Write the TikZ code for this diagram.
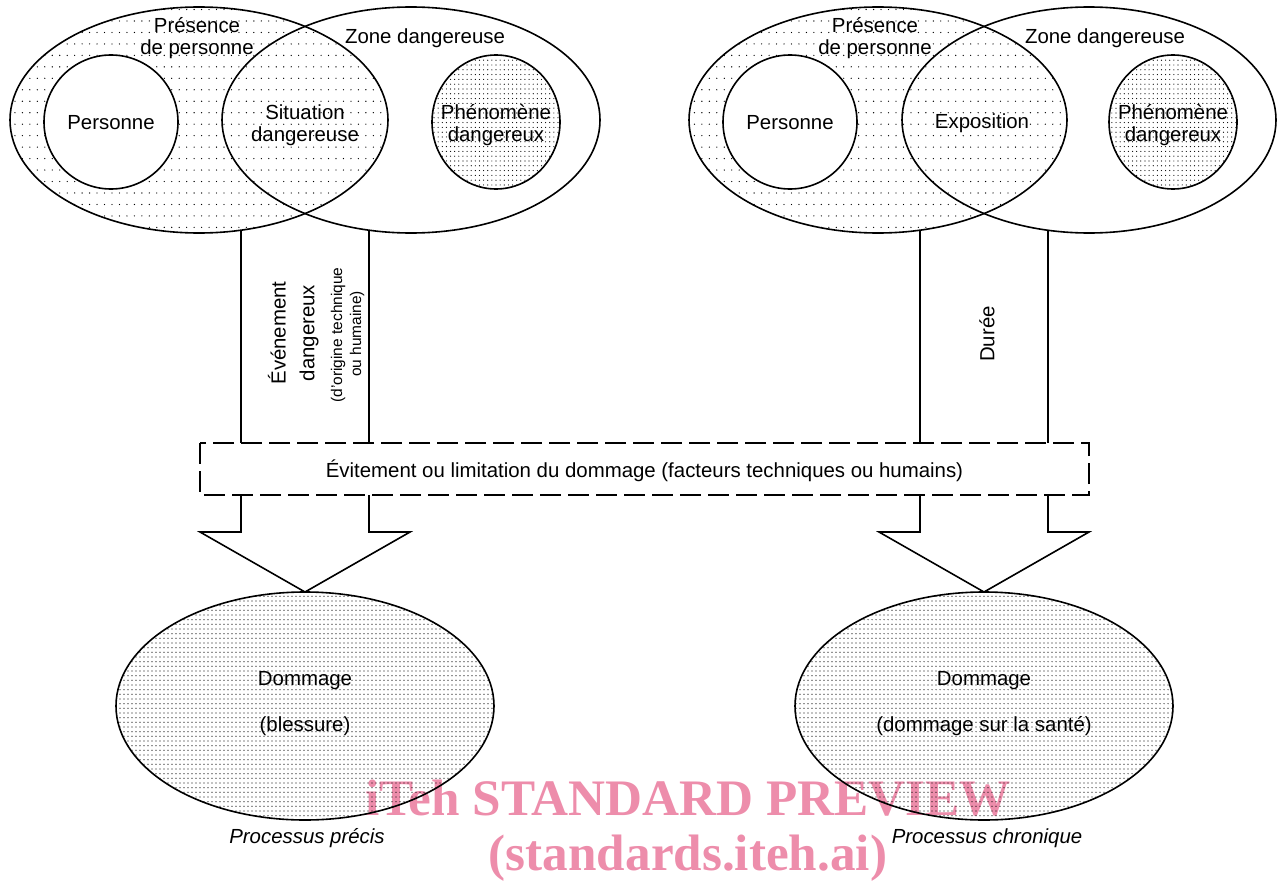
\documentclass[tikz,border=0pt]{standalone}
\usepackage{fontspec}
\setmainfont{Liberation Sans}
\newfontfamily\wmfont{Liberation Serif}
\usetikzlibrary{patterns}

\definecolor{wmpink}{RGB}{237,141,171}

% dot fills
\pgfdeclarepatternformonly{sparse dots}{\pgfqpoint{-1pt}{-1pt}}{\pgfqpoint{1pt}{1pt}}{\pgfqpoint{5.6pt}{8.6pt}}{%
  \pgfpathcircle{\pgfqpoint{0pt}{0pt}}{0.5pt}\pgfusepath{fill}}
\pgfdeclarepatternformonly{dense dots}{\pgfqpoint{-1pt}{-1pt}}{\pgfqpoint{1pt}{1pt}}{\pgfqpoint{3.1pt}{3.6pt}}{%
  \pgfpathcircle{\pgfqpoint{0pt}{0pt}}{0.45pt}\pgfusepath{fill}}
\pgfdeclarepatternformonly{damage dots}{\pgfqpoint{-1pt}{-1pt}}{\pgfqpoint{1pt}{1pt}}{\pgfqpoint{3pt}{3.5pt}}{%
  \pgfpathcircle{\pgfqpoint{0pt}{0pt}}{0.45pt}\pgfusepath{fill}}

\begin{document}
\begin{tikzpicture}[x=0.75pt,y=0.75pt,yscale=-1,xscale=1,
  txt/.style={font=\fontsize{15.3}{16.5}\selectfont, align=center, inner sep=0pt},
  smalltxt/.style={font=\fontsize{11.6}{12}\selectfont, inner sep=0pt},
  wm/.style={text=wmpink, font=\wmfont\bfseries\fontsize{38.4}{40}\selectfont, inner sep=0pt, anchor=base},
  outline/.style={line width=1.2pt}]
	\useasboundingbox (0,0) rectangle (1277,881);

	% Watermark
	\node [wm] (wmtop) at (688,815) {iTeh STANDARD PREVIEW};
	\node [wm] (wmbot) at (688,870) {(standards.iteh.ai)};

	%Shape: Arrow left
	\draw [outline]  (241,230) -- (241,532) -- (200,532) -- (305,592) -- (410,532) -- (369,532) -- (369,230) ;
	%Shape: Arrow right
	\draw [outline]  (920,230) -- (920,532) -- (879,532) -- (984,592) -- (1089,532) -- (1048,532) -- (1048,230) ;

	%Shape: Ellipse presence left
	\draw [outline, pattern=sparse dots]  (199,120) ellipse [x radius=189, y radius=113] ;
	%Shape: Ellipse zone left
	\draw [outline]  (411,120) ellipse [x radius=189, y radius=113] ;
	%Shape: Circle personne left
	\draw [outline, fill=white]  (111,122) circle [x radius=67, y radius=67] ;
	%Shape: Circle phenomene left
	\draw [outline, pattern=dense dots]  (496,122) circle [x radius=64, y radius=67] ;

	%Shape: Ellipse presence right
	\draw [outline, pattern=sparse dots]  (878,120) ellipse [x radius=189, y radius=113] ;
	%Shape: Ellipse zone right
	\draw [outline]  (1089,120) ellipse [x radius=187, y radius=113] ;
	%Shape: Circle personne right
	\draw [outline, fill=white]  (790,122) circle [x radius=67, y radius=67] ;
	%Shape: Circle phenomene right
	\draw [outline, pattern=dense dots]  (1173,122) circle [x radius=64, y radius=67] ;

	%Shape: Rectangle dashed
	\draw [outline, dash pattern={on 16pt off 5pt}, fill=white]  (200,443) rectangle (1089,495) ;

	%Shape: Ellipse dommage left
	\draw [outline, pattern=damage dots]  (305,706) ellipse [x radius=189, y radius=114] ;
	%Shape: Ellipse dommage right
	\draw [outline, pattern=damage dots]  (984,706) ellipse [x radius=189, y radius=114] ;

	% Text Node
	\node [txt] (presL) at (197,38) {Présence\\de personne};
	\node [txt] (zoneL) at (425,38) {Zone dangereuse};
	\node [txt] (persL) at (111,123) {Personne};
	\node [txt] (sitL) at (305,125) {Situation\\dangereuse};
	\node [txt] (phenL) at (496,125) {Phénomène\\dangereux};

	\node [txt] (presR) at (875,38) {Présence\\de personne};
	\node [txt] (zoneR) at (1105,38) {Zone dangereuse};
	\node [txt] (persR) at (790,123) {Personne};
	\node [txt] (expoR) at (982,123) {Exposition};
	\node [txt] (phenR) at (1173,125) {Phénomène\\dangereux};

	% Text Node rotated
	\node [txt, rotate=90] (evt1) at (277,333) {Événement};
	\node [txt, rotate=90] (evt2) at (309,333) {dangereux};
	\node [smalltxt, rotate=90] (evt3) at (338,335) {(d'origine technique};
	\node [smalltxt, rotate=90] (evt4) at (357,334) {ou humaine)};
	\node [txt, rotate=90] (duree) at (987,334) {Durée};

	% Text Node
	\node [txt] (evit) at (644.5,471) {Évitement ou limitation du dommage (facteurs techniques ou humains)};

	\node [txt] (domL) at (305,681) {Dommage};
	\node [txt] (blesL) at (305,726) {(blessure)};
	\node [txt] (domR) at (984,681) {Dommage};
	\node [txt] (santR) at (984,726) {(dommage sur la santé)};

	\node [txt, font=\fontsize{15.3}{16.5}\selectfont\itshape] (procL) at (307,838) {Processus précis};
	\node [txt, font=\fontsize{15.3}{16.5}\selectfont\itshape] (procR) at (987,838) {Processus chronique};
\end{tikzpicture}
\end{document}
